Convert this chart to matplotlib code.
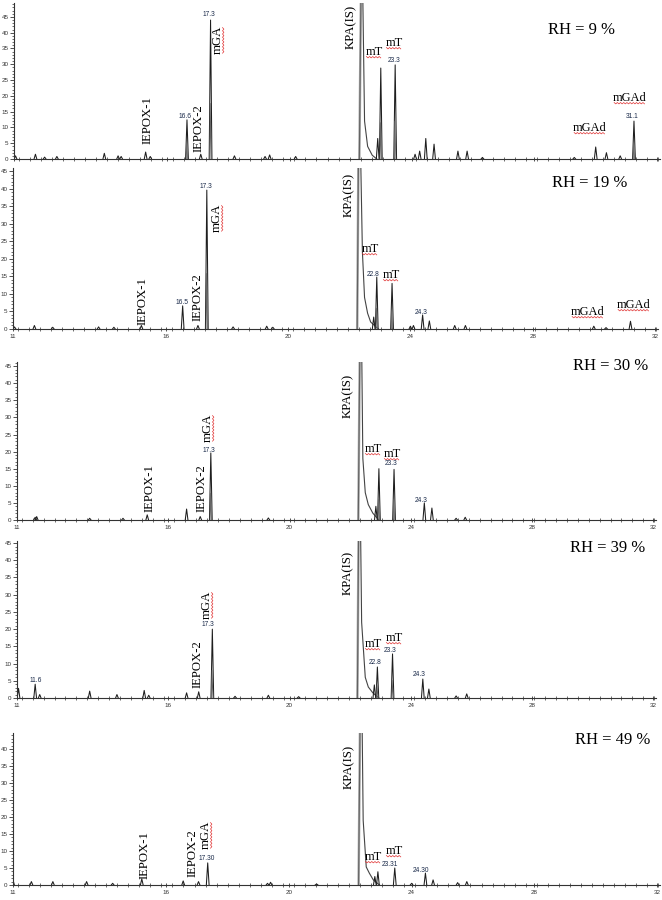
import numpy as np
import matplotlib
matplotlib.use('Agg')
import matplotlib.pyplot as plt
from matplotlib.ticker import MultipleLocator, FixedLocator
from matplotlib.lines import Line2D
from matplotlib.transforms import IdentityTransform

W, H = 662, 900

rh_labels = ['RH = 9 %', 'RH = 19 %', 'RH = 30 %', 'RH = 39 %', 'RH = 49 %']
x_ticks = [11, 16, 20, 24, 28, 32]

# retention time (min) and peak height
t_rh9 = [11.05, 11.7, 12.0, 12.4, 13.95, 14.4, 14.5, 15.3, 15.45, 16.65, 17.1, 17.42, 18.2, 19.2, 19.35, 20.2,
         22.88, 22.98, 23.45, 24.1, 24.25, 24.45, 24.72, 25.5, 25.8, 26.3, 29.3, 30.0, 30.35, 30.8, 31.25]
h_rh9 = [1.0, 1.5, 0.6, 0.8, 1.8, 1.0, 0.8, 2.2, 0.8, 12.4, 1.5, 44.0, 1.0, 0.8, 1.3, 0.8,
         6.5, 28.8, 29.8, 1.5, 2.5, 6.5, 4.7, 2.5, 2.5, 0.5, 0.5, 3.8, 2.0, 1.0, 12.0]

t_rh19 = [11.05, 11.7, 12.3, 13.8, 14.3, 15.2, 16.55, 17.05, 17.34, 18.2, 19.3, 19.5,
          22.8, 22.9, 23.4, 24.0, 24.1, 24.4, 24.62, 25.45, 25.8, 30.0, 30.4, 31.2]
h_rh19 = [0.6, 1.0, 0.5, 0.6, 0.5, 1.0, 6.6, 1.0, 39.6, 0.6, 0.8, 0.5,
          3.4, 14.8, 13.0, 0.8, 1.0, 4.0, 2.3, 1.0, 1.0, 0.8, 0.4, 2.2]

t_rh30 = [11.6, 11.65, 13.4, 14.5, 15.3, 16.6, 17.05, 17.4, 19.3,
          22.85, 22.95, 23.45, 24.45, 24.7, 25.5, 25.8]
h_rh30 = [0.8, 1.0, 0.5, 0.5, 1.5, 3.2, 1.0, 19.6, 0.6,
          4.0, 15.0, 14.8, 5.0, 3.5, 0.5, 0.8]

t_rh39 = [11.05, 11.6, 11.75, 13.4, 14.3, 15.2, 15.35, 16.6, 17.0, 17.45, 18.2, 19.3, 20.3,
          22.8, 22.9, 23.4, 24.4, 24.6, 25.5, 25.85]
h_rh39 = [2.8, 4.0, 1.0, 2.0, 1.0, 2.2, 0.8, 1.5, 1.8, 20.0, 0.5, 0.8, 0.4,
          3.8, 9.0, 12.8, 5.5, 2.6, 0.6, 1.2]

t_rh49 = [11.0, 11.6, 12.3, 13.4, 14.25, 15.2, 16.55, 17.05, 17.35, 19.3, 19.4, 20.9,
          22.8, 22.9, 23.45, 24.0, 24.45, 24.7, 25.5, 25.8]
h_rh49 = [1.5, 1.0, 1.0, 1.0, 0.5, 1.8, 1.2, 1.0, 6.5, 0.5, 0.8, 0.3,
          2.5, 3.9, 5.0, 0.5, 3.5, 1.5, 0.7, 1.0]

# KPA(IS) peak, off scale, with its tail
kpa_t_rh9 = [22.28, 22.34, 22.38, 22.45, 22.55, 22.7, 22.85]
kpa_h_rh9 = [0, 60, 60, 12, 4, 1.2, 0]
kpa_t_rh19 = [22.26, 22.31, 22.35, 22.43, 22.5, 22.6, 22.7, 22.95]
kpa_h_rh19 = [0, 60, 60, 22, 9, 4.5, 2, 0]
kpa_t_rh30 = [22.27, 22.33, 22.37, 22.42, 22.5, 22.6, 22.75, 22.95]
kpa_h_rh30 = [0, 60, 60, 18, 8, 4.5, 2, 0]
kpa_t_rh39 = [22.24, 22.29, 22.33, 22.38, 22.5, 22.6, 22.75, 22.95]
kpa_h_rh39 = [0, 60, 60, 22, 6, 3.2, 1.5, 0]
kpa_t_rh49 = [22.27, 22.33, 22.37, 22.42, 22.52, 22.62, 22.75, 22.95]
kpa_h_rh49 = [0, 60, 60, 19, 5.3, 3.5, 1.5, 0]

traces = [(t_rh9, h_rh9, kpa_t_rh9, kpa_h_rh9),
          (t_rh19, h_rh19, kpa_t_rh19, kpa_h_rh19),
          (t_rh30, h_rh30, kpa_t_rh30, kpa_h_rh30),
          (t_rh39, h_rh39, kpa_t_rh39, kpa_h_rh39),
          (t_rh49, h_rh49, kpa_t_rh49, kpa_h_rh49)]

# panel frames in pixels: left, right, bottom, top, y max
frames = [(14, 660, 159, 3, 49.4),
          (13, 658, 329, 168, 45.9),
          (17, 656, 520, 362, 46.2),
          (17, 656, 698, 541, 45.6),
          (13, 660, 885, 733, 44.7)]

# labels: (x px, y px, text, kind)
labels = [
    [(351, 27, 'KPA(IS)', 'rot'), (374, 52, 'mT', 'mt'), (394, 43, 'mT', 'mt'), (394, 61, '23.3', 'num'),
     (590, 128, 'mGAd', 'mt'), (630, 98, 'mGAd', 'mt'), (632, 117, '31.1', 'num'),
     (148, 120, 'IEPOX-1', 'rot'), (185, 116, '16.6', 'num'), (199, 128, 'IEPOX-2', 'rot'),
     (209, 15, '17.3', 'num'), (218, 40, 'mGA', 'rotmt'), (582, 30, 'RH = 9 %', 'rh')],
    [(349, 195, 'KPA(IS)', 'rot'), (370, 249, 'mT', 'mt'), (373, 274, '22.8', 'num'), (391, 275, 'mT', 'mt'),
     (421, 312, '24.3', 'num'), (588, 312, 'mGAd', 'mt'), (634, 305, 'mGAd', 'mt'),
     (143, 301, 'IEPOX-1', 'rot'), (182, 302, '16.5', 'num'), (198, 297, 'IEPOX-2', 'rot'),
     (206, 186, '17.3', 'num'), (217, 218, 'mGA', 'rotmt'), (590, 183, 'RH = 19 %', 'rh')],
    [(348, 396, 'KPA(IS)', 'rot'), (373, 449, 'mT', 'mt'), (392, 454, 'mT', 'mt'), (391, 463, '23.3', 'num'),
     (421, 500, '24.3', 'num'), (150, 488, 'IEPOX-1', 'rot'), (202, 488, 'IEPOX-2', 'rot'),
     (208, 428, 'mGA', 'rotmt'), (209, 450, '17.3', 'num'), (611, 366, 'RH = 30 %', 'rh')],
    [(348, 573, 'KPA(IS)', 'rot'), (373, 644, 'mT', 'mt'), (394, 638, 'mT', 'mt'), (390, 650, '23.3', 'num'),
     (375, 663, '22.8', 'num'), (419, 675, '24.3', 'num'), (36, 680, '11.6', 'num'),
     (198, 664, 'IEPOX-2', 'rot'), (207, 605, 'mGA', 'rotmt'), (208, 624, '17.3', 'num'),
     (608, 548, 'RH = 39 %', 'rh')],
    [(349, 767, 'KPA(IS)', 'rot'), (373, 857, 'mT', 'mt'), (394, 851, 'mT', 'mt'), (390, 864, '23.31', 'num'),
     (421, 870, '24.30', 'num'), (145, 855, 'IEPOX-1', 'rot'), (193, 853, 'IEPOX-2', 'rot'),
     (206, 835, 'mGA', 'rotmt'), (207, 859, '17.30', 'num'), (613, 740, 'RH = 49 %', 'rh')],
]

serif = 'Liberation Serif'
sans = 'Liberation Sans'
line_c = '#1e1e1e'
hw = 0.045  # half width of a peak, minutes

fig = plt.figure(figsize=(W / 100, H / 100), dpi=100)

for i, (tr, fr) in enumerate(zip(traces, frames)):
    t, h, kt, kh = tr
    left, right, bottom, top, ymax = fr
    ax = fig.add_axes([left / W, 1 - bottom / H, (right - left) / W, (bottom - top) / H])
    ax.set_xlim(11, 32.1)
    ax.set_ylim(0, ymax)
    for s in ['top', 'right']:
        ax.spines[s].set_visible(False)
    for s in ['left', 'bottom']:
        ax.spines[s].set_color('#333333')
        ax.spines[s].set_linewidth(0.8)

    # internal standard: double outline like the instrument print
    ax.plot(kt, kh, color='#444444', lw=0.8)
    ax.plot(kt[:3], [0, kh[1], kh[2]], color='#777777', lw=1.8, alpha=0.6)
    for ti, hi in zip(t, h):
        ax.plot([ti - hw, ti, ti + hw], [0, hi, 0], color=line_c, lw=0.75)
        if hi > 8:
            ax.plot([ti - hw * 0.5, ti - 0.01, ti + hw * 0.5], [0, hi * 0.4, 0], color='#666666', lw=0.6)

    yt = list(range(0, int(ymax) + 1, 5))
    if ymax < 45:
        yt = list(range(0, 41, 5))
    ax.yaxis.set_major_locator(FixedLocator(yt))
    ax.yaxis.set_minor_locator(MultipleLocator(1))
    ax.tick_params(axis='y', which='major', length=3, width=0.6, labelsize=4.5, pad=1, colors='#333333')
    ax.tick_params(axis='y', which='minor', length=1.5, width=0.5, colors='#333333')
    for lab in ax.get_yticklabels():
        lab.set_fontfamily(sans)

    ax.xaxis.set_major_locator(FixedLocator(x_ticks))
    ax.xaxis.set_minor_locator(MultipleLocator(0.36))
    ax.tick_params(axis='x', which='major', direction='inout', length=3.5, width=0.6, labelsize=4.5, pad=2,
                   colors='#333333')
    ax.tick_params(axis='x', which='minor', direction='inout', length=2.5, width=0.5, colors='#333333')
    if i == 0:
        ax.tick_params(axis='x', which='major', labelbottom=False)
    for lab in ax.get_xticklabels():
        lab.set_fontfamily(sans)

texts = []
for panel in labels:
    for x, y, s, kind in panel:
        fx, fy = x / W, 1 - y / H
        if kind == 'rot' or kind == 'rotmt':
            tx = fig.text(fx, fy, s, rotation=90, ha='center', va='center', fontsize=9.2, family=serif)
        elif kind == 'mt':
            tx = fig.text(fx, fy, s, ha='center', va='center', fontsize=9, family=serif)
        elif kind == 'num':
            tx = fig.text(fx, fy, s, ha='center', va='center', fontsize=4.8, family=sans, color='#1a2a4a')
        else:
            tx = fig.text(fx, fy, s, ha='center', va='center', fontsize=12, family=serif)
        texts.append((tx, kind))

# red spell-check squiggles under the short names
fig.canvas.draw()
renderer = fig.canvas.get_renderer()
for tx, kind in texts:
    if kind not in ('mt', 'rotmt'):
        continue
    bb = tx.get_window_extent(renderer)
    if kind == 'rotmt':
        yy = np.arange(bb.y0 + 1, bb.y1 - 1, 1.6)
        xx = bb.x1 - 1.5 + 1.4 * (np.arange(len(yy)) % 2)
    else:
        xx = np.arange(bb.x0 + 1, bb.x1 - 1, 1.6)
        yy = bb.y0 + 1.5 - 1.4 * (np.arange(len(xx)) % 2)
    fig.add_artist(Line2D(xx, yy, transform=IdentityTransform(), color='#e03030', lw=0.5))

fig.savefig('out.png', dpi=100)
